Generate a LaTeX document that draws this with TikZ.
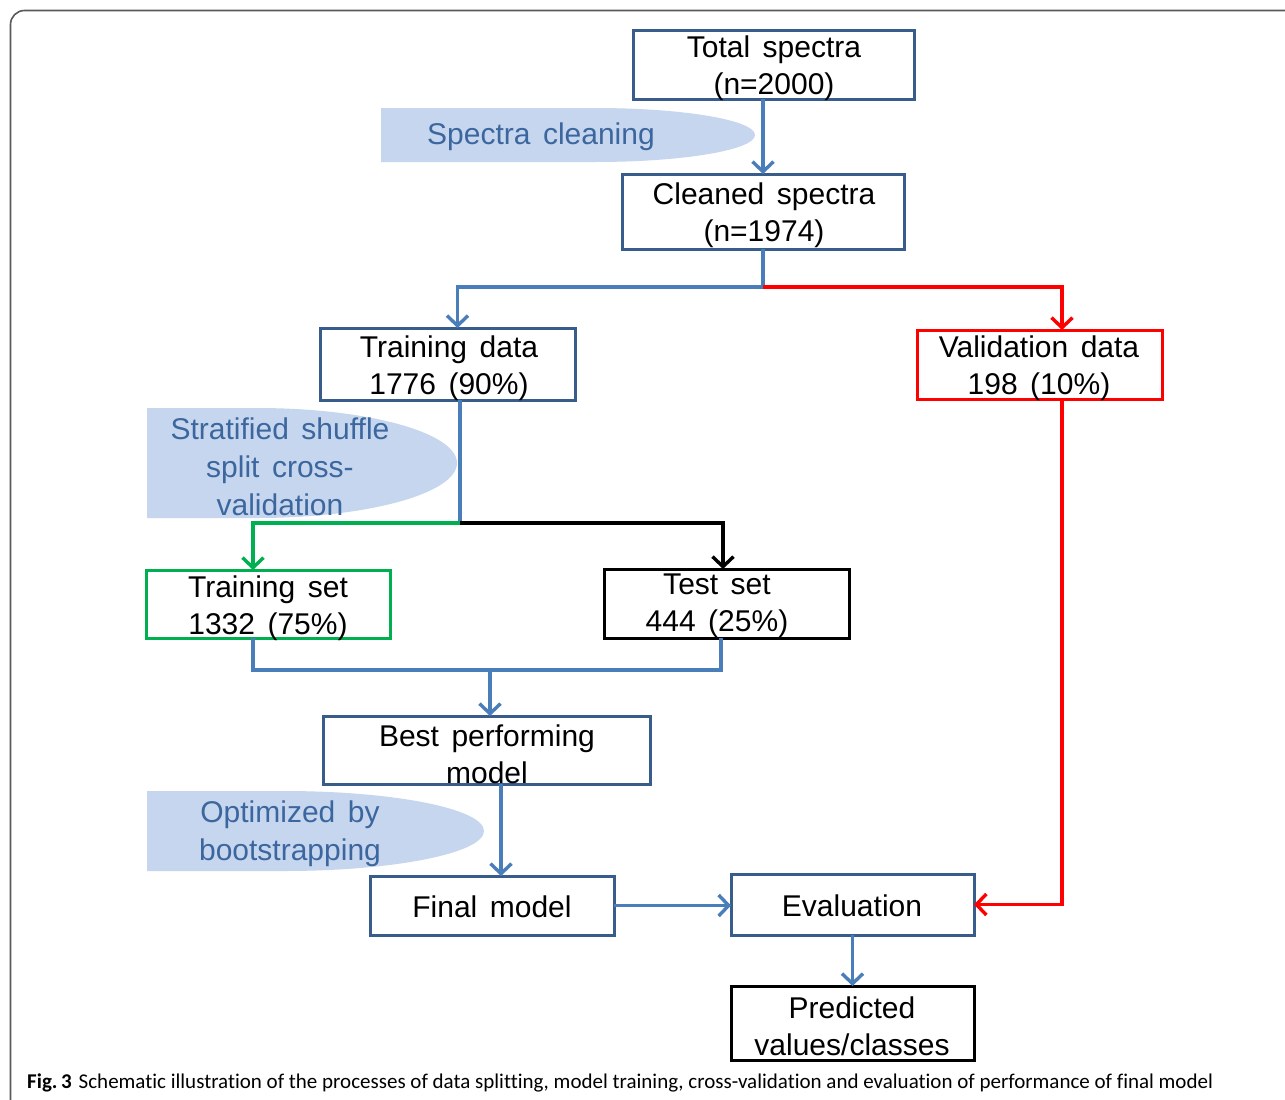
\documentclass[tikz,border=0pt]{standalone}
\usepackage{fontspec}
\setmainfont{Liberation Sans}[WordSpace=1.5]
\newfontfamily\capfont{Carlito}[Ligatures={NoCommon}]
\usetikzlibrary{arrows.meta}
\definecolor{navy}{HTML}{385D8A}
\definecolor{connblue}{HTML}{4A7EBB}
\definecolor{calfill}{HTML}{C6D6EE}
\definecolor{caltext}{HTML}{3C679E}
\definecolor{grn}{HTML}{00B050}
\definecolor{redc}{HTML}{FF0000}
\definecolor{framec}{HTML}{5A5A5A}
\begin{document}
\begin{tikzpicture}[x=1pt,y=-1pt,
  box/.style={draw=navy, line width=3pt, inner sep=0pt, outer sep=0pt},
  txt/.style={font=\fontsize{30}{37}\selectfont, align=center, inner sep=0pt, text=black},
  ctxt/.style={font=\fontsize{30}{38}\selectfont, align=center, inner sep=0pt, text=caltext},
  bline/.style={line width=3.4pt, draw=connblue},
  rline/.style={line width=3.4pt, draw=redc},
  gline/.style={line width=3.4pt, draw=grn},
  kline/.style={line width=3.4pt, draw=black},
  tip/.style={-{Straight Barb[length=10pt,width=21pt]}},
  callout/.style={fill=calfill, draw=none}
]
\useasboundingbox (0,0) rectangle (1285,1100);
\clip (0,0) rectangle (1285,1100);
\fill[white] (0,0) rectangle (1285,1100);
% frame
\draw[framec, line width=1.6pt, rounded corners=14pt] (10.5,1110) -- (10.5,10.5) -- (1300,10.5);

% callout shapes
\path[callout] (381,108) -- (595,108) arc[start angle=-90, end angle=90, x radius=160, y radius=27] -- (381,162) -- cycle;
\path[callout] (147,408) -- (257,408) arc[start angle=-90, end angle=90, x radius=200, y radius=55] -- (147,518) -- cycle;
\path[callout] (147,791) -- (284,791) arc[start angle=-90, end angle=90, x radius=200, y radius=40] -- (147,871) -- cycle;
\node[ctxt] (c1) at (541,137) {Spectra cleaning};
\node[ctxt] (c2) at (280,467) {Stratified shuffle\\split cross-\\validation};
\node[ctxt] (c3) at (290,834) {Optimized by\\bootstrapping};

% boxes
\node[box, minimum width=281pt, minimum height=69pt] (ts) at (773.5,64.5) {};
\node[box, minimum width=282pt, minimum height=75pt] (cs) at (763,211.5) {};
\node[box, minimum width=255pt, minimum height=72pt] (td) at (447.5,364) {};
\node[box, draw=redc, minimum width=245pt, minimum height=69pt] (vd) at (1039.5,364.5) {};
\node[box, draw=grn, minimum width=244pt, minimum height=68pt] (trs) at (268,604) {};
\node[box, draw=black, minimum width=245pt, minimum height=69pt] (tes) at (726.5,603.5) {};
\node[box, minimum width=327pt, minimum height=68pt] (bpm) at (486.5,750) {};
\node[box, minimum width=244pt, minimum height=59pt] (fm) at (492,905.5) {};
\node[box, minimum width=243pt, minimum height=61pt] (ev) at (852.5,904.5) {};
\node[box, draw=black, minimum width=243pt, minimum height=74pt] (pr) at (852.5,1023) {};

% box texts
\node[txt] (tst) at (774,68) {Total spectra\\(n=2000)};
\node[txt] (cst) at (764,215) {Cleaned spectra\\(n=1974)};
\node[txt] (tdt) at (449,368) {Training data\\1776 (90\%)};
\node[txt] (vdt) at (1039,368) {Validation data\\198 (10\%)};
\node[txt] (trst) at (268,608) {Training set\\1332 (75\%)};
\node[txt] (test) at (717,606) {Test set\\444 (25\%)};
\node[txt] (bpmt) at (487,754) {Best performing\\model};
\node[txt] (fmt) at (492,907) {Final model};
\node[txt] (evt) at (852,906) {Evaluation};
\node[txt] (prt) at (852,1026) {Predicted\\values/classes};

% connectors
\draw[bline, tip] (ts.south -| cs.north) -- (cs.north);
\draw[bline, tip] (cs.south) -- ++(0,38) coordinate (sp1) -| ([xshift=10pt]td.north);
\draw[rline, tip] (sp1) -| ([xshift=22.5pt]vd.north);
\draw[bline] ([xshift=12.5pt]td.south) -- ++(0,123) coordinate (sp2);
\draw[gline, tip] (sp2) -| ([xshift=-15pt]trs.north);
\draw[kline, tip] (sp2) -| ([xshift=-3.5pt]tes.north);
\draw[bline] ([xshift=-15pt]trs.south) -- ++(0,32) coordinate (j1) -| ([xshift=-5.5pt]tes.south);
\draw[bline, tip] ([xshift=3.5pt]bpm.north |- j1) -- ([xshift=3.5pt]bpm.north);
\draw[bline, tip] ([xshift=14.5pt]bpm.south) -- ([xshift=14.5pt]bpm.south |- fm.north);
\draw[bline, tip] (fm.east) -- (fm.east -| ev.west);
\draw[rline, tip] ([xshift=22.5pt]vd.south) |- (ev.east);
\draw[bline, tip] (ev.south) -- (pr.north);

% caption
\node[anchor=base west, inner sep=0pt, font=\capfont\fontsize{21}{24}\selectfont] (cap) at (27,1088) {\textbf{Fig.\,3}\hspace{7pt}Schematic illustration of the processes of data splitting, model training, cross-validation and evaluation of performance of final model};
\end{tikzpicture}
\end{document}
